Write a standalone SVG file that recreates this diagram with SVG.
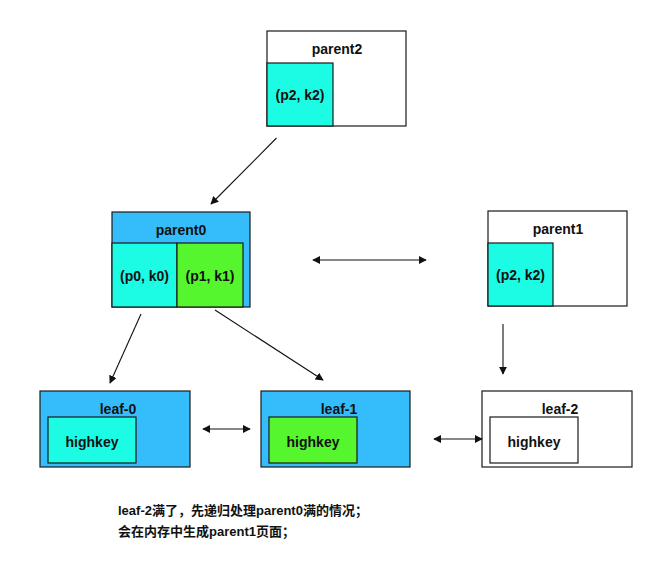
<svg xmlns="http://www.w3.org/2000/svg" width="661" height="562" viewBox="0 0 661 562">
<defs>
<style>
.box{stroke:#1a1a1a;stroke-width:1.2}
.blue{fill:#35bdfb}
.cyan{fill:#1cfce5}
.green{fill:#56f62f}
.white{fill:#ffffff}
.t{font-family:"Liberation Sans",Arial,sans-serif;font-weight:bold;font-size:14px;fill:#111;text-anchor:middle}
.c{stroke:#111;stroke-width:1.1;fill:none}
.note{font-family:"Liberation Sans","Noto Sans CJK SC",sans-serif;font-weight:bold;font-size:13px;fill:#111}
</style>
<marker id="ah" viewBox="0 0 10 10" refX="9" refY="5" markerWidth="8" markerHeight="8" markerUnits="userSpaceOnUse" orient="auto-start-reverse">
<path d="M0,0 L10,5 L0,10 z" fill="#111"/>
</marker>
</defs>
<rect width="661" height="562" fill="#ffffff"/>
<g id="parent2">
<rect class="box white" x="267" y="31" width="139" height="95"/>
<rect class="box cyan" x="267" y="63" width="66" height="63"/>
<text class="t" x="337" y="54">parent2</text>
<text class="t" x="300" y="100">(p2, k2)</text>
</g>
<g id="parent0">
<rect class="box blue" x="112" y="212" width="138" height="95"/>
<rect class="box cyan" x="112" y="243" width="65" height="64"/>
<rect class="box green" x="177" y="243" width="66" height="64"/>
<text class="t" x="181" y="235">parent0</text>
<text class="t" x="144.5" y="281">(p0, k0)</text>
<text class="t" x="210" y="281">(p1, k1)</text>
</g>
<g id="parent1">
<rect class="box white" x="488" y="211" width="139" height="95"/>
<rect class="box cyan" x="488" y="243" width="65" height="63"/>
<text class="t" x="558" y="234">parent1</text>
<text class="t" x="520.5" y="280">(p2, k2)</text>
</g>
<g id="leaf-0">
<rect class="box blue" x="40" y="391" width="150" height="76"/>
<rect class="box cyan" x="48" y="417" width="88" height="46"/>
<text class="t" x="118" y="414">leaf-0</text>
<text class="t" x="92" y="447">highkey</text>
</g>
<g id="leaf-1">
<rect class="box blue" x="261" y="391" width="149" height="76"/>
<rect class="box green" x="269" y="417" width="88" height="46"/>
<text class="t" x="339" y="414">leaf-1</text>
<text class="t" x="313" y="447">highkey</text>
</g>
<g id="leaf-2">
<rect class="box white" x="482" y="391" width="150" height="76"/>
<rect class="box white" x="490" y="417" width="88" height="46"/>
<text class="t" x="560" y="414">leaf-2</text>
<text class="t" x="534" y="447">highkey</text>
</g>
<g id="connectors">
<line class="c" x1="276.5" y1="138" x2="211" y2="204" marker-end="url(#ah)"/>
<line class="c" x1="141" y1="314" x2="110" y2="383" marker-end="url(#ah)"/>
<line class="c" x1="215" y1="310" x2="323" y2="380" marker-end="url(#ah)"/>
<line class="c" x1="503" y1="324" x2="503" y2="374" marker-end="url(#ah)"/>
<line class="c" x1="313" y1="260" x2="426" y2="260" marker-start="url(#ah)" marker-end="url(#ah)"/>
<line class="c" x1="203" y1="429" x2="250" y2="429" marker-start="url(#ah)" marker-end="url(#ah)"/>
<line class="c" x1="434" y1="439" x2="482" y2="439" marker-start="url(#ah)" marker-end="url(#ah)"/>
</g>
<g id="note">
<text class="note" x="118" y="515">leaf-2满了，先递归处理parent0满的情况；</text>
<text class="note" x="118" y="536">会在内存中生成parent1页面；</text>
</g>
</svg>
